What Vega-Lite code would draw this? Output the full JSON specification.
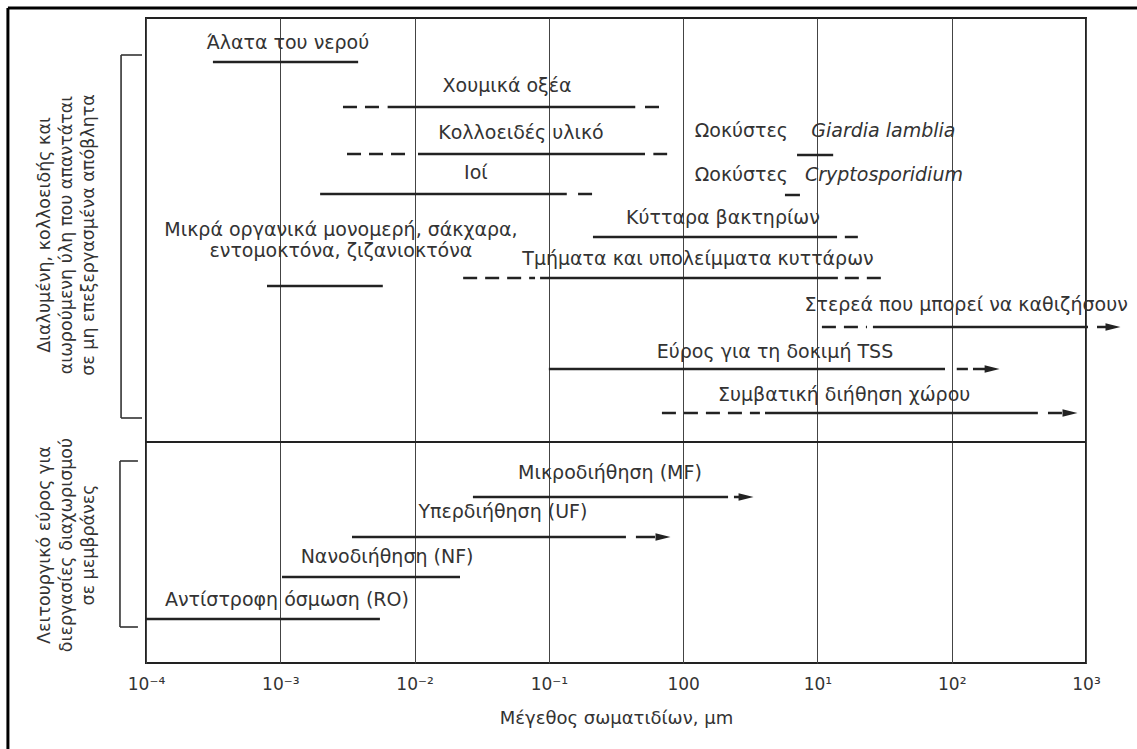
{
  "$schema": "https://vega.github.io/schema/vega-lite/v6.json",
  "width": 940,
  "height": 645,
  "autosize": "none",
  "padding": {"left": 146, "top": 18, "right": 51, "bottom": 86},
  "background": "white",
  "config": {
    "view": {"stroke": "#222", "strokeWidth": 2},
    "font": "DejaVu Sans",
    "text": {"font": "DejaVu Sans", "fontSize": 19, "color": "#333"}
  },
  "datasets": {
    "segs": [
      {"item": "salts", "x": 0.000315, "x2": 0.0038, "pos": 4.4, "style": "solid"},
      {"item": "humic", "x": 0.00293, "x2": 0.0060, "pos": 8.9, "style": "dashed"},
      {"item": "humic", "x": 0.0063, "x2": 0.44, "pos": 8.9, "style": "solid"},
      {"item": "humic", "x": 0.52, "x2": 0.71, "pos": 8.9, "style": "dashed"},
      {"item": "colloid", "x": 0.00314, "x2": 0.0097, "pos": 13.6, "style": "dashed"},
      {"item": "colloid", "x": 0.0106, "x2": 0.52, "pos": 13.6, "style": "solid"},
      {"item": "colloid", "x": 0.60, "x2": 0.76, "pos": 13.6, "style": "dashed"},
      {"item": "giardia", "x": 7.05, "x2": 13.1, "pos": 13.7, "style": "solid"},
      {"item": "virus", "x": 0.00198, "x2": 0.136, "pos": 17.6, "style": "solid"},
      {"item": "virus", "x": 0.165, "x2": 0.21, "pos": 17.6, "style": "dashed"},
      {"item": "crypto", "x": 5.73, "x2": 7.41, "pos": 17.7, "style": "solid"},
      {"item": "bacteria", "x": 0.213, "x2": 14.0, "pos": 21.9, "style": "solid"},
      {"item": "bacteria", "x": 16.0, "x2": 20.0, "pos": 21.9, "style": "dashed"},
      {"item": "debris", "x": 0.023, "x2": 0.0789, "pos": 26.0, "style": "dashed"},
      {"item": "debris", "x": 0.086, "x2": 14.2, "pos": 26.0, "style": "solid"},
      {"item": "debris", "x": 16.0, "x2": 33.5, "pos": 26.0, "style": "dashed"},
      {"item": "organics", "x": 0.000796, "x2": 0.0058, "pos": 26.8, "style": "solid"},
      {"item": "settleable", "x": 10.8, "x2": 23.4, "pos": 30.9, "style": "dashed"},
      {"item": "settleable", "x": 25.9, "x2": 1035, "pos": 30.9, "style": "solid"},
      {"item": "settleable", "x": 1208, "x2": 1409, "pos": 30.9, "style": "solid"},
      {"item": "tss", "x": 0.1, "x2": 89.1, "pos": 35.1, "style": "solid"},
      {"item": "tss", "x": 109, "x2": 132, "pos": 35.1, "style": "dashed"},
      {"item": "tss", "x": 144, "x2": 177, "pos": 35.1, "style": "solid"},
      {"item": "filtration", "x": 0.695, "x2": 3.73, "pos": 39.5, "style": "dashed"},
      {"item": "filtration", "x": 4.07, "x2": 438, "pos": 39.5, "style": "solid"},
      {"item": "filtration", "x": 521, "x2": 662, "pos": 39.5, "style": "solid"},
      {"item": "MF", "x": 0.0272, "x2": 2.16, "pos": 47.9, "style": "solid"},
      {"item": "MF", "x": 2.39, "x2": 2.65, "pos": 47.9, "style": "solid"},
      {"item": "UF", "x": 0.00342, "x2": 0.375, "pos": 51.9, "style": "solid"},
      {"item": "UF", "x": 0.445, "x2": 0.617, "pos": 51.9, "style": "solid"},
      {"item": "NF", "x": 0.00103, "x2": 0.0218, "pos": 55.9, "style": "solid"},
      {"item": "RO", "x": 0.0001, "x2": 0.00552, "pos": 60.1, "style": "solid"}
    ],
    "heads": [
      {"item": "settleable", "x": 1588, "pos": 30.9},
      {"item": "tss", "x": 200, "pos": 35.1},
      {"item": "filtration", "x": 760, "pos": 39.5},
      {"item": "MF", "x": 2.94, "pos": 47.9},
      {"item": "UF", "x": 0.708, "pos": 51.9}
    ],
    "labels": [
      {"label": "Άλατα του νερού", "x": 0.00114, "pos": 2.5},
      {"label": "Χουμικά οξέα", "x": 0.0488, "pos": 6.8},
      {"label": "Κολλοειδές υλικό", "x": 0.0620, "pos": 11.5},
      {"label": "Ιοί", "x": 0.0286, "pos": 15.5},
      {"label": "Κύτταρα βακτηρίων", "x": 1.98, "pos": 20.0},
      {"label": "Μικρά οργανικά μονομερή, σάκχαρα,", "x": 0.00283, "pos": 21.2},
      {"label": "εντομοκτόνα, ζιζανιοκτόνα", "x": 0.00283, "pos": 23.3},
      {"label": "Τμήματα και υπολείμματα κυττάρων", "x": 1.29, "pos": 24.1},
      {"label": "Στερεά που μπορεί να καθιζήσουν", "x": 128, "pos": 28.7},
      {"label": "Εύρος για τη δοκιμή TSS", "x": 4.83, "pos": 33.4},
      {"label": "Συμβατική διήθηση χώρου", "x": 15.8, "pos": 37.7},
      {"label": "Μικροδιήθηση (MF)", "x": 0.285, "pos": 45.5},
      {"label": "Υπερδιήθηση (UF)", "x": 0.0455, "pos": 49.4},
      {"label": "Νανοδιήθηση (NF)", "x": 0.00624, "pos": 53.9},
      {"label": "Αντίστροφη όσμωση (RO)", "x": 0.00112, "pos": 58.2}
    ],
    "oocysts": [
      {"prefix": "Ωοκύστες", "name": "Giardia lamblia", "x": 1.22, "xname": 9.0, "pos": 11.3},
      {"prefix": "Ωοκύστες", "name": "Cryptosporidium", "x": 1.22, "xname": 8.07, "pos": 15.7}
    ],
    "divider": [
      {"x": 0.0001, "x2": 1000, "pos": 42.4}
    ],
    "brackets": [
      {"x": 6.52e-5, "x2": 6.52e-5, "pos": 3.7, "pos2": 40.0},
      {"x": 6.52e-5, "x2": 9.34e-5, "pos": 3.7, "pos2": 3.7},
      {"x": 6.52e-5, "x2": 9.34e-5, "pos": 40.0, "pos2": 40.0},
      {"x": 6.4e-5, "x2": 6.4e-5, "pos": 44.3, "pos2": 60.9},
      {"x": 6.4e-5, "x2": 8.71e-5, "pos": 44.3, "pos2": 44.3},
      {"x": 6.4e-5, "x2": 8.71e-5, "pos": 60.9, "pos2": 60.9}
    ],
    "frame": [
      {"x": 9.37e-6, "x2": 2399, "pos": -1.0, "pos2": -1.0},
      {"x": 9.37e-6, "x2": 9.37e-6, "pos": -1.0, "pos2": 73.1}
    ],
    "groups": [
      {"lines": ["Διαλυμένη, κολλοειδής και", "αιωρούμενη ύλη που απαντάται", "σε μη επεξεργασμένα απόβλητα"], "x": 1.77e-5, "pos": 21.7},
      {"lines": ["Λειτουργικό εύρος για", "διεργασίες διαχωρισμού", "σε μεμβράνες"], "x": 1.77e-5, "pos": 52.7}
    ]
  },
  "encoding": {
    "x": {
      "field": "x",
      "type": "quantitative",
      "scale": {"type": "log", "domain": [0.0001, 1000], "nice": false},
      "axis": {
        "title": "Μέγεθος σωματιδίων, μm",
        "values": [0.0001, 0.001, 0.01, 0.1, 1, 10, 100, 1000],
        "labelExpr": "datum.value < 0.0005 ? '10⁻⁴' : datum.value < 0.005 ? '10⁻³' : datum.value < 0.05 ? '10⁻²' : datum.value < 0.5 ? '10⁻¹' : datum.value < 5 ? '100' : datum.value < 50 ? '10¹' : datum.value < 500 ? '10²' : '10³'",
        "grid": true,
        "gridColor": "#444",
        "gridWidth": 1,
        "gridOpacity": 1,
        "ticks": false,
        "domain": false,
        "labelFont": "DejaVu Sans",
        "labelFontSize": 17,
        "labelColor": "#333",
        "labelPadding": 13,
        "labelFlush": false,
        "titleFont": "DejaVu Sans",
        "titleFontSize": 18,
        "titleFontWeight": "normal",
        "titleColor": "#333",
        "titlePadding": 17
      }
    },
    "y": {
      "field": "pos",
      "type": "quantitative",
      "scale": {"domain": [0, 64.5], "reverse": true, "nice": false, "zero": false},
      "axis": null
    }
  },
  "layer": [
    {
      "data": {"name": "frame"},
      "mark": {"type": "rule", "clip": false, "color": "#000", "strokeWidth": 3},
      "encoding": {"x2": {"field": "x2"}, "y2": {"field": "pos2"}}
    },
    {
      "data": {"name": "brackets"},
      "mark": {"type": "rule", "clip": false, "color": "#333", "strokeWidth": 1.6},
      "encoding": {"x2": {"field": "x2"}, "y2": {"field": "pos2"}}
    },
    {
      "data": {"name": "divider"},
      "mark": {"type": "rule", "clip": false, "color": "#222", "strokeWidth": 2},
      "encoding": {"x2": {"field": "x2"}}
    },
    {
      "data": {"name": "segs"},
      "mark": {"type": "rule", "clip": false, "color": "#222", "strokeWidth": 2.5},
      "encoding": {
        "x2": {"field": "x2"},
        "strokeDash": {
          "field": "style",
          "type": "nominal",
          "scale": {"domain": ["solid", "dashed"], "range": [[1, 0], [14, 8]]},
          "legend": null
        }
      }
    },
    {
      "data": {"name": "heads"},
      "mark": {"type": "point", "clip": false, "shape": "M-1,-0.5L1,0L-1,0.5Z", "size": 225, "filled": true, "color": "#222", "opacity": 1},
      "encoding": {}
    },
    {
      "data": {"name": "labels"},
      "mark": {"type": "text", "clip": false, "align": "center", "baseline": "middle"},
      "encoding": {"text": {"field": "label"}}
    },
    {
      "data": {"name": "oocysts"},
      "mark": {"type": "text", "clip": false, "align": "left", "baseline": "middle"},
      "encoding": {"text": {"field": "prefix"}}
    },
    {
      "data": {"name": "oocysts"},
      "mark": {"type": "text", "clip": false, "align": "left", "baseline": "middle", "fontStyle": "italic"},
      "encoding": {"x": {"field": "xname", "type": "quantitative"}, "text": {"field": "name"}}
    },
    {
      "data": {"name": "groups"},
      "mark": {"type": "text", "clip": false, "align": "center", "baseline": "middle", "angle": 270, "lineHeight": 22, "fontSize": 17.5},
      "encoding": {"text": {"field": "lines"}}
    }
  ]
}
